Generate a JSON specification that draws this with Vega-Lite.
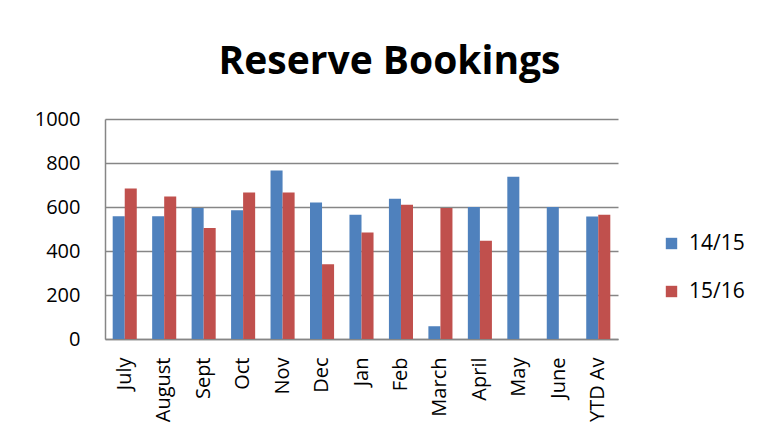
{
  "$schema": "https://vega.github.io/schema/vega-lite/v6.json",
  "autosize": {"type": "none"},
  "width": 513,
  "height": 220,
  "padding": {"left": 105, "top": 119, "right": 141, "bottom": 109},
  "background": "white",
  "title": {
    "text": "Reserve Bookings",
    "font": "Open Sans",
    "fontSize": 39,
    "fontWeight": "bold",
    "color": "#000000",
    "anchor": "middle",
    "dx": 28,
    "offset": 27
  },
  "data": {
    "values": [
      {"month": "July", "season": "14/15", "bookings": 558},
      {"month": "July", "season": "15/16", "bookings": 684},
      {"month": "August", "season": "14/15", "bookings": 558},
      {"month": "August", "season": "15/16", "bookings": 648},
      {"month": "Sept", "season": "14/15", "bookings": 595},
      {"month": "Sept", "season": "15/16", "bookings": 504},
      {"month": "Oct", "season": "14/15", "bookings": 585},
      {"month": "Oct", "season": "15/16", "bookings": 666},
      {"month": "Nov", "season": "14/15", "bookings": 766},
      {"month": "Nov", "season": "15/16", "bookings": 666},
      {"month": "Dec", "season": "14/15", "bookings": 620},
      {"month": "Dec", "season": "15/16", "bookings": 340},
      {"month": "Jan", "season": "14/15", "bookings": 565},
      {"month": "Jan", "season": "15/16", "bookings": 484},
      {"month": "Feb", "season": "14/15", "bookings": 638},
      {"month": "Feb", "season": "15/16", "bookings": 610},
      {"month": "March", "season": "14/15", "bookings": 58},
      {"month": "March", "season": "15/16", "bookings": 595},
      {"month": "April", "season": "14/15", "bookings": 600},
      {"month": "April", "season": "15/16", "bookings": 447},
      {"month": "May", "season": "14/15", "bookings": 738},
      {"month": "June", "season": "14/15", "bookings": 600},
      {"month": "YTD Av", "season": "14/15", "bookings": 557},
      {"month": "YTD Av", "season": "15/16", "bookings": 565}
    ]
  },
  "mark": {"type": "bar"},
  "encoding": {
    "x": {
      "field": "month",
      "type": "nominal",
      "sort": ["July", "August", "Sept", "Oct", "Nov", "Dec", "Jan", "Feb", "March", "April", "May", "June", "YTD Av"],
      "scale": {"paddingInner": 0.39, "paddingOuter": 0.195},
      "axis": {
        "title": null,
        "labelAngle": 270,
        "labelAlign": "right",
        "labelBaseline": "middle",
        "labelFont": "Open Sans",
        "labelFontSize": 20,
        "labelColor": "#000000",
        "labelPadding": 18,
        "ticks": false,
        "domainColor": "#868686",
        "domainWidth": 1.5
      }
    },
    "xOffset": {"field": "season", "type": "nominal", "sort": ["14/15", "15/16"]},
    "y": {
      "field": "bookings",
      "type": "quantitative",
      "scale": {"domain": [0, 1000], "nice": false},
      "axis": {
        "title": null,
        "values": [0, 200, 400, 600, 800, 1000],
        "format": "d",
        "labelFont": "Open Sans",
        "labelFontSize": 20,
        "labelColor": "#000000",
        "labelPadding": 25,
        "ticks": false,
        "grid": true,
        "gridColor": "#868686",
        "gridWidth": 1.5,
        "domain": true,
        "domainColor": "#868686",
        "domainWidth": 1.5
      }
    },
    "color": {
      "field": "season",
      "type": "nominal",
      "scale": {"domain": ["14/15", "15/16"], "range": ["#4F81BD", "#C0504D"]},
      "legend": {
        "title": null,
        "orient": "none",
        "legendX": 556,
        "legendY": 114,
        "symbolType": "square",
        "symbolSize": 130,
        "symbolStrokeWidth": 0,
        "labelFont": "Open Sans",
        "labelFontSize": 21,
        "labelColor": "#000000",
        "labelOffset": 7,
        "rowPadding": 26
      }
    }
  },
  "config": {
    "view": {"stroke": null},
    "bar": {"stroke": null}
  }
}
